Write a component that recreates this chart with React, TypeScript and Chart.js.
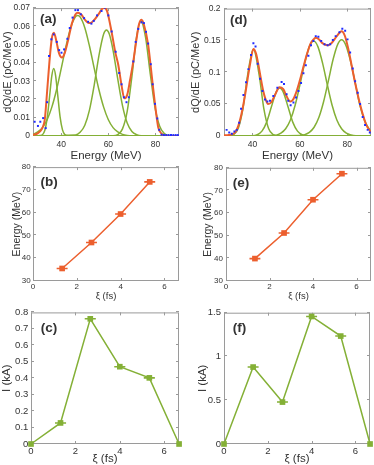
import React, { useEffect, useRef } from "react";
import { Chart, registerables } from "chart.js";
Chart.register(...registerables);

const FONT = '"Liberation Sans", Arial, Helvetica, sans-serif';
const ORANGE = "#EC5F2E";
const GREEN = "#84B036";
const BLUE = "#1F2BFF";
const TEXT = "#333333";
const FRAME = "#9a9a9a";

// ---------- Panel (a): spectrum ----------
const aDotsE = [28.7, 30.1, 31.1, 32.3, 33.4, 34.0, 34.8, 35.8, 36.8, 38.1, 39.1, 40.1, 41.2, 42.6, 43.6, 44.8, 46.0, 47.1, 48.3, 49.7, 51.4, 52.8, 53.8, 55.2, 57.1, 58.5, 60.0, 61.4, 63.1, 64.6, 65.6, 66.6, 67.7, 68.7, 70.6, 71.6, 72.7, 74.1, 75.1, 76.0, 76.9, 78.0, 78.8, 79.8, 80.8, 81.6, 82.6, 83.6, 84.6, 85.6, 86.6, 87.6, 88.6, 89.5];
const aDotsQ = [0.0078, 0.0055, 0.0078, 0.0098, 0.0043, 0.0185, 0.0438, 0.0529, 0.0556, 0.0515, 0.047, 0.0456, 0.0474, 0.0532, 0.0591, 0.0648, 0.0689, 0.0689, 0.0666, 0.0645, 0.0625, 0.0615, 0.063, 0.066, 0.0684, 0.0702, 0.066, 0.0572, 0.0461, 0.0345, 0.0283, 0.0212, 0.0185, 0.0212, 0.0408, 0.0515, 0.0586, 0.0622, 0.0618, 0.057, 0.0506, 0.0393, 0.0283, 0.0176, 0.0096, 0.0034, 0.0007, 0.0005, 0.0005, 0.0005, 0.0005, 0.0005, 0.0005, 0.0005];
const aFitE = [28, 30, 31, 32, 33, 34, 35, 36, 36.9, 38, 39, 40.3, 41.5, 43, 44.5, 46, 47.1, 48.5, 50, 51.3, 52.4, 54, 56, 57.5, 58.5, 59.5, 61.4, 63, 64.2, 65.5, 66.8, 68, 69.2, 70.6, 72, 73, 74.1, 75.2, 76.9, 78, 79, 80, 81.2, 82.6, 84, 90];
const aFitQ = [0.0006, 0.0015, 0.0025, 0.0045, 0.009, 0.0245, 0.041, 0.0535, 0.0565, 0.0515, 0.0455, 0.0429, 0.0455, 0.053, 0.0615, 0.0665, 0.0675, 0.0665, 0.0637, 0.0621, 0.0618, 0.0635, 0.067, 0.0698, 0.0702, 0.0682, 0.0568, 0.0455, 0.039, 0.0285, 0.0206, 0.0225, 0.0305, 0.0408, 0.0535, 0.061, 0.0636, 0.0605, 0.05, 0.038, 0.0263, 0.0155, 0.0047, 0.0013, 0.0002, 0];
const aG1E = [28, 31, 32, 33, 34, 35, 36, 36.8, 37.6, 38.5, 39.5, 40.5, 41.5, 43, 90];
const aG1Q = [0, 0.0003, 0.0007, 0.003, 0.0095, 0.0211, 0.0331, 0.037, 0.0331, 0.0224, 0.0105, 0.0035, 0.0008, 0.0001, 0];
const aG2E = [28, 30, 32, 34, 36, 38, 40, 42, 44, 46, 47, 48, 50, 52, 54, 56, 58, 60, 62, 64, 66, 68, 70, 90];
const aG2Q = [0.0009, 0.0022, 0.0046, 0.0089, 0.0158, 0.0253, 0.037, 0.0491, 0.0593, 0.0652, 0.066, 0.0652, 0.0593, 0.0491, 0.037, 0.0253, 0.0158, 0.0089, 0.0046, 0.0022, 0.0009, 0.0003, 0.0001, 0];
const aG3E = [28, 46, 48, 50, 52, 54, 56, 58, 59.2, 60.4, 62, 64, 66, 68, 70, 72, 74, 90];
const aG3Q = [0, 0.0005, 0.002, 0.0059, 0.0143, 0.0279, 0.044, 0.0558, 0.058, 0.0558, 0.0469, 0.0311, 0.0166, 0.0071, 0.0025, 0.0007, 0.0001, 0];
const aG4E = [28, 62, 64, 66, 68, 70, 72, 73.8, 75.8, 77.8, 79.8, 81.8, 83.8, 85.8, 90];
const aG4Q = [0, 0.0001, 0.0008, 0.0039, 0.0135, 0.0325, 0.0543, 0.063, 0.054, 0.034, 0.0157, 0.0053, 0.0013, 0.0002, 0];
const aXTicks = [40, 60, 80];
const aYTicks = [0, 0.01, 0.02, 0.03, 0.04, 0.05, 0.06, 0.07];

// ---------- Panel (d): spectrum ----------
const dDotsE = [29.1, 30.2, 31.3, 32.4, 33.4, 34.4, 35.2, 36.2, 37.3, 38.3, 39.4, 40.4, 41.3, 42.2, 43.2, 44.2, 45.3, 46.3, 47.4, 48.8, 50.5, 52.3, 53.3, 54.4, 55.1, 56.1, 57.3, 58.4, 59.4, 60.5, 61.5, 62.5, 63.6, 64.7, 65.7, 66.7, 67.8, 69.0, 70.4, 71.7, 72.8, 73.9, 75.1, 76.7, 77.9, 79.1, 80.1, 81.2, 82.3, 83.3, 84.4, 85.4, 86.5, 87.5, 88.6, 89.5];
const dDotsQ = [0.0096, 0.0055, 0.0035, 0.007, 0.0096, 0.0207, 0.0426, 0.0644, 0.0842, 0.105, 0.127, 0.1456, 0.1406, 0.1136, 0.0899, 0.0705, 0.0573, 0.0542, 0.0553, 0.0629, 0.0756, 0.0847, 0.0817, 0.0655, 0.0553, 0.0482, 0.0527, 0.0604, 0.0705, 0.0832, 0.0985, 0.111, 0.126, 0.1426, 0.149, 0.1568, 0.1558, 0.149, 0.144, 0.1426, 0.144, 0.1508, 0.1568, 0.1629, 0.1685, 0.1654, 0.1517, 0.131, 0.106, 0.0858, 0.068, 0.0503, 0.03, 0.0173, 0.0096, 0.0055];
const dFitE = [28, 30, 32, 33, 34, 35, 36, 37, 38, 39, 40.4, 41.5, 42.5, 43.5, 44.5, 45.5, 46.6, 48, 49.5, 51.4, 53, 54.5, 55.9, 57, 58.5, 60, 61.5, 63, 64.5, 66, 66.7, 68, 69.5, 71.7, 73.5, 75.5, 77.6, 79, 80.5, 82, 83.5, 85, 86.5, 88, 90];
const dFitQ = [0.001, 0.0015, 0.0035, 0.0075, 0.0155, 0.0285, 0.046, 0.067, 0.0905, 0.113, 0.1365, 0.1295, 0.112, 0.091, 0.0715, 0.058, 0.0503, 0.053, 0.0645, 0.0766, 0.0735, 0.0615, 0.0542, 0.0565, 0.069, 0.0875, 0.1085, 0.1285, 0.145, 0.1525, 0.1543, 0.152, 0.1458, 0.1426, 0.1465, 0.1565, 0.1645, 0.157, 0.1355, 0.1075, 0.08, 0.0555, 0.0345, 0.0175, 0.006];
const dG1E = [28, 30, 32, 34, 36, 38, 40.4, 42.8, 44.8, 46.8, 48.8, 50.8, 90];
const dG1Q = [0, 0.0002, 0.002, 0.0118, 0.043, 0.0965, 0.136, 0.0965, 0.043, 0.0118, 0.002, 0.0002, 0];
const dG2E = [28, 40, 42, 44, 46, 48, 50, 51.5, 53, 55, 57, 59, 61, 63, 90];
const dG2Q = [0, 0.0003, 0.0019, 0.0076, 0.0218, 0.0458, 0.0689, 0.0755, 0.0689, 0.0458, 0.0218, 0.0076, 0.0019, 0.0003, 0];
const dG3E = [28, 50, 52, 54, 56, 58, 60, 62, 64, 65.8, 67.6, 69.6, 71.6, 73.6, 75.6, 77.6, 79.6, 81.6, 83.6, 90];
const dG3Q = [0, 0.0013, 0.0044, 0.0113, 0.0251, 0.0483, 0.08, 0.114, 0.1403, 0.149, 0.1403, 0.114, 0.08, 0.0483, 0.0251, 0.0113, 0.0044, 0.0015, 0.0004, 0];
const dG4E = [28, 60, 62, 64, 66, 68, 70, 72, 74, 76, 77.6, 79.2, 81.2, 83.2, 85.2, 87.2, 89.2, 90];
const dG4Q = [0, 0.0006, 0.002, 0.0056, 0.0137, 0.029, 0.0538, 0.0862, 0.12, 0.1442, 0.151, 0.1442, 0.12, 0.0862, 0.05, 0.025, 0.011, 0.0075];
const dXTicks = [40, 60, 80];
const dYTicks = [0, 0.05, 0.1, 0.15, 0.2];

// ---------- Panels (b), (e): peak energy vs ξ ----------
const peakXi = [1.33, 2.67, 4, 5.33];
const peakXiErr = [0.25, 0.25, 0.25, 0.25];
const bEnergy = [35.5, 46.9, 59.4, 73.5];
const eEnergy = [39.9, 51.2, 65.9, 77.4];
const xiTicks = [0, 2, 4, 6];
const energyTicks = [30, 40, 50, 60, 70, 80];

// ---------- Panels (c), (f): current vs ξ ----------
const curXi = [0, 1.33, 2.67, 4, 5.33, 6.67];
const curXiErr = [0, 0.25, 0.25, 0.25, 0.25, 0];
const cCurrent = [0, 0.128, 0.761, 0.47, 0.402, 0];
const fCurrent = [0, 0.879, 0.479, 1.457, 1.233, 0];
const cTicks = [0, 0.1, 0.2, 0.3, 0.4, 0.5, 0.6, 0.7, 0.8];
const fTicks = [0, 0.5, 1, 1.5];

const zip = (xs: number[], ys: number[]) => xs.map((x, i) => ({ x, y: ys[i] }));

const framePlugin = {
  id: "frame",
  beforeDatasetsDraw(chart: any) {
    const { ctx, chartArea } = chart;
    const { left, right, top, bottom } = chartArea;
    const xs = chart.scales.x;
    const ys = chart.scales.y;
    ctx.save();
    ctx.strokeStyle = FRAME;
    ctx.lineWidth = 1;
    ctx.strokeRect(left + 0.5, top + 0.5, right - left - 1, bottom - top - 1);
    const tl = 3;
    ctx.beginPath();
    for (const t of xs.ticks) {
      const p = Math.round(xs.getPixelForValue(t.value)) + 0.5;
      ctx.moveTo(p, bottom);
      ctx.lineTo(p, bottom - tl);
      ctx.moveTo(p, top);
      ctx.lineTo(p, top + tl);
    }
    for (const t of ys.ticks) {
      const p = Math.round(ys.getPixelForValue(t.value)) - 0.5;
      ctx.moveTo(left, p);
      ctx.lineTo(left + tl, p);
      ctx.moveTo(right, p);
      ctx.lineTo(right - tl, p);
    }
    ctx.stroke();
    ctx.restore();
  },
  afterDatasetsDraw(chart: any, _a: any, opts: any) {
    const { ctx, chartArea } = chart;
    const xs = chart.scales.x;
    const ys = chart.scales.y;
    ctx.save();
    if (opts.err) {
      const e = opts.err;
      ctx.strokeStyle = e.color;
      ctx.lineWidth = 1.6;
      ctx.beginPath();
      e.x.forEach((x: number, i: number) => {
        if (!e.e[i]) return;
        const y = ys.getPixelForValue(e.y[i]);
        ctx.moveTo(xs.getPixelForValue(x - e.e[i]), y);
        ctx.lineTo(xs.getPixelForValue(x + e.e[i]), y);
      });
      ctx.stroke();
    }
    ctx.fillStyle = TEXT;
    ctx.font = `bold 13.5px ${FONT}`;
    ctx.textBaseline = "middle";
    ctx.textAlign = "left";
    ctx.fillText(opts.label, chartArea.left + opts.dx, chartArea.top + opts.dy);
    ctx.restore();
  },
};

type Spec = {
  L: number; T: number; R: number; B: number;
  yW: number; xH: number; padTop: number; padRight: number;
  xMin: number; xMax: number; yMin: number; yMax: number;
  xTicks: number[]; yTicks: number[];
  tickSize: number; xTickPad: number; yTickPad: number;
  xTitle: string; yTitle: string; xTitleSize: number; yTitleSize: number;
  xTitlePad: number; yTitlePad: number;
  label: string; dx: number; dy: number;
  datasets: any[];
  err?: any;
};

function buildConfig(p: Spec): any {
  const tickFont = { family: FONT, size: p.tickSize };
  return {
    type: "line",
    data: { datasets: p.datasets },
    options: {
      responsive: false,
      animation: false,
      events: [],
      layout: { padding: { left: 0, top: p.padTop, right: p.padRight, bottom: 0 }, autoPadding: false },
      plugins: {
        legend: { display: false },
        tooltip: { enabled: false },
        frame: { label: p.label, dx: p.dx, dy: p.dy, err: p.err },
      },
      scales: {
        x: {
          type: "linear",
          min: p.xMin,
          max: p.xMax,
          grid: { display: false, drawTicks: false },
          border: { display: false },
          afterBuildTicks: (s: any) => { s.ticks = p.xTicks.map((v) => ({ value: v })); },
          afterFit: (s: any) => { s.height = p.xH; },
          ticks: { font: tickFont, color: TEXT, padding: p.xTickPad, maxRotation: 0, autoSkip: false, callback: (v: any) => String(v) },
          title: { display: true, text: p.xTitle, color: TEXT, font: { family: FONT, size: p.xTitleSize }, padding: { top: 0, bottom: p.xTitlePad } },
        },
        y: {
          type: "linear",
          min: p.yMin,
          max: p.yMax,
          grid: { display: false, drawTicks: false },
          border: { display: false },
          afterBuildTicks: (s: any) => { s.ticks = p.yTicks.map((v) => ({ value: v })); },
          afterFit: (s: any) => { s.width = p.yW; },
          ticks: { font: tickFont, color: TEXT, padding: p.yTickPad, autoSkip: false, callback: (v: any) => String(v) },
          title: { display: true, text: p.yTitle, color: TEXT, font: { family: FONT, size: p.yTitleSize }, padding: { top: p.yTitlePad, bottom: 0 } },
        },
      },
    },
    plugins: [framePlugin],
  };
}

const curve = (xs: number[], ys: number[], color: string, width: number, order: number) => ({
  data: zip(xs, ys),
  borderColor: color,
  borderWidth: width,
  pointRadius: 0,
  cubicInterpolationMode: "monotone",
  fill: false,
  order,
});

const dots = (xs: number[], ys: number[]) => ({
  data: zip(xs, ys),
  showLine: false,
  pointStyle: "rect",
  pointRadius: 1.4,
  pointBackgroundColor: BLUE,
  pointBorderWidth: 0,
  order: 0,
});

const markerLine = (xs: number[], ys: number[], color: string) => ({
  data: zip(xs, ys),
  borderColor: color,
  borderWidth: 1.5,
  pointStyle: "rect",
  pointRadius: 4,
  pointBackgroundColor: color,
  pointBorderWidth: 0,
  tension: 0,
  clip: false,
});

const specs: Spec[] = [
  {
    L: 33, T: 5, R: 179, B: 136, yW: 33, xH: 28, padTop: 5, padRight: 8,
    xMin: 28, xMax: 90, yMin: 0, yMax: 0.07, xTicks: aXTicks, yTicks: aYTicks,
    tickSize: 8.5, xTickPad: 3.4, yTickPad: 3,
    xTitle: "Energy (MeV)", yTitle: "dQ/dE (pC/MeV)", xTitleSize: 11.5, yTitleSize: 11,
    xTitlePad: 1.6, yTitlePad: 1.4, label: "(a)", dx: 7, dy: 11.5,
    datasets: [
      dots(aDotsE, aDotsQ),
      curve(aFitE, aFitQ, ORANGE, 2, 1),
      curve(aG1E, aG1Q, GREEN, 1.5, 2),
      curve(aG2E, aG2Q, GREEN, 1.5, 2),
      curve(aG3E, aG3Q, GREEN, 1.5, 2),
      curve(aG4E, aG4Q, GREEN, 1.5, 2),
    ],
  },
  {
    L: 224, T: 5, R: 371, B: 136, yW: 38, xH: 28, padTop: 5, padRight: 3,
    xMin: 28, xMax: 90, yMin: 0, yMax: 0.2, xTicks: dXTicks, yTicks: dYTicks,
    tickSize: 8.5, xTickPad: 3.4, yTickPad: 3.5,
    xTitle: "Energy (MeV)", yTitle: "dQ/dE (pC/MeV)", xTitleSize: 11.5, yTitleSize: 11,
    xTitlePad: 1.6, yTitlePad: 3.4, label: "(d)", dx: 6, dy: 12,
    datasets: [
      dots(dDotsE, dDotsQ),
      curve(dFitE, dFitQ, ORANGE, 2, 1),
      curve(dG1E, dG1Q, GREEN, 1.5, 2),
      curve(dG2E, dG2Q, GREEN, 1.5, 2),
      curve(dG3E, dG3Q, GREEN, 1.5, 2),
      curve(dG4E, dG4Q, GREEN, 1.5, 2),
    ],
  },
  {
    L: 33, T: 167, R: 179, B: 281, yW: 33, xH: 22, padTop: 7, padRight: 8,
    xMin: 0, xMax: 20 / 3, yMin: 30, yMax: 80, xTicks: xiTicks, yTicks: energyTicks,
    tickSize: 8, xTickPad: 0.5, yTickPad: 2.3,
    xTitle: "ξ (fs)", yTitle: "Energy (MeV)", xTitleSize: 9.5, yTitleSize: 10.5,
    xTitlePad: 1.3, yTitlePad: 10.4, label: "(b)", dx: 7.4, dy: 15,
    datasets: [markerLine(peakXi, bEnergy, ORANGE)],
    err: { x: peakXi, y: bEnergy, e: peakXiErr, color: ORANGE },
  },
  {
    L: 226, T: 167, R: 371, B: 281, yW: 38, xH: 22, padTop: 7, padRight: 3,
    xMin: 0, xMax: 20 / 3, yMin: 30, yMax: 80, xTicks: xiTicks, yTicks: energyTicks,
    tickSize: 8, xTickPad: 0.5, yTickPad: 3,
    xTitle: "ξ (fs)", yTitle: "Energy (MeV)", xTitleSize: 9.5, yTitleSize: 10.5,
    xTitlePad: 1.3, yTitlePad: 14, label: "(e)", dx: 6.7, dy: 15,
    datasets: [markerLine(peakXi, eEnergy, ORANGE)],
    err: { x: peakXi, y: eEnergy, e: peakXiErr, color: ORANGE },
  },
  {
    L: 31, T: 311, R: 179, B: 444, yW: 31, xH: 23, padTop: 7, padRight: 8,
    xMin: 0, xMax: 20 / 3, yMin: 0, yMax: 0.8, xTicks: xiTicks, yTicks: cTicks,
    tickSize: 9.5, xTickPad: 1.8, yTickPad: 2.7,
    xTitle: "ξ (fs)", yTitle: "I (kA)", xTitleSize: 11.5, yTitleSize: 11.5,
    xTitlePad: 1.1, yTitlePad: 0, label: "(c)", dx: 9.7, dy: 16,
    datasets: [markerLine(curXi, cCurrent, GREEN)],
    err: { x: curXi, y: cCurrent, e: curXiErr, color: GREEN },
  },
  {
    L: 224, T: 311, R: 370, B: 444, yW: 36, xH: 23, padTop: 7, padRight: 4,
    xMin: 0, xMax: 20 / 3, yMin: 0, yMax: 1.5, xTicks: xiTicks, yTicks: fTicks,
    tickSize: 9.5, xTickPad: 1.8, yTickPad: 3,
    xTitle: "ξ (fs)", yTitle: "I (kA)", xTitleSize: 11.5, yTitleSize: 11.5,
    xTitlePad: 1.1, yTitlePad: 8.4, label: "(f)", dx: 8.7, dy: 16,
    datasets: [markerLine(curXi, fCurrent, GREEN)],
    err: { x: curXi, y: fCurrent, e: curXiErr, color: GREEN },
  },
];

function Panel({ spec }: { spec: Spec }) {
  const ref = useRef<HTMLCanvasElement>(null);
  const left = spec.L - spec.yW;
  const top = spec.T - spec.padTop;
  const width = spec.R + spec.padRight - left;
  const height = spec.B + spec.xH - top;
  useEffect(() => {
    const chart = new Chart(ref.current as HTMLCanvasElement, buildConfig(spec));
    return () => chart.destroy();
  }, []);
  return (
    <canvas
      ref={ref}
      width={width}
      height={height}
      style={{ position: "absolute", left, top, width, height }}
    />
  );
}

export default function App() {
  return (
    <div style={{ position: "fixed", left: 0, top: 0, width: 374, height: 465, background: "#fff", overflow: "hidden" }}>
      {specs.map((s) => (
        <Panel key={s.label} spec={s} />
      ))}
    </div>
  );
}
